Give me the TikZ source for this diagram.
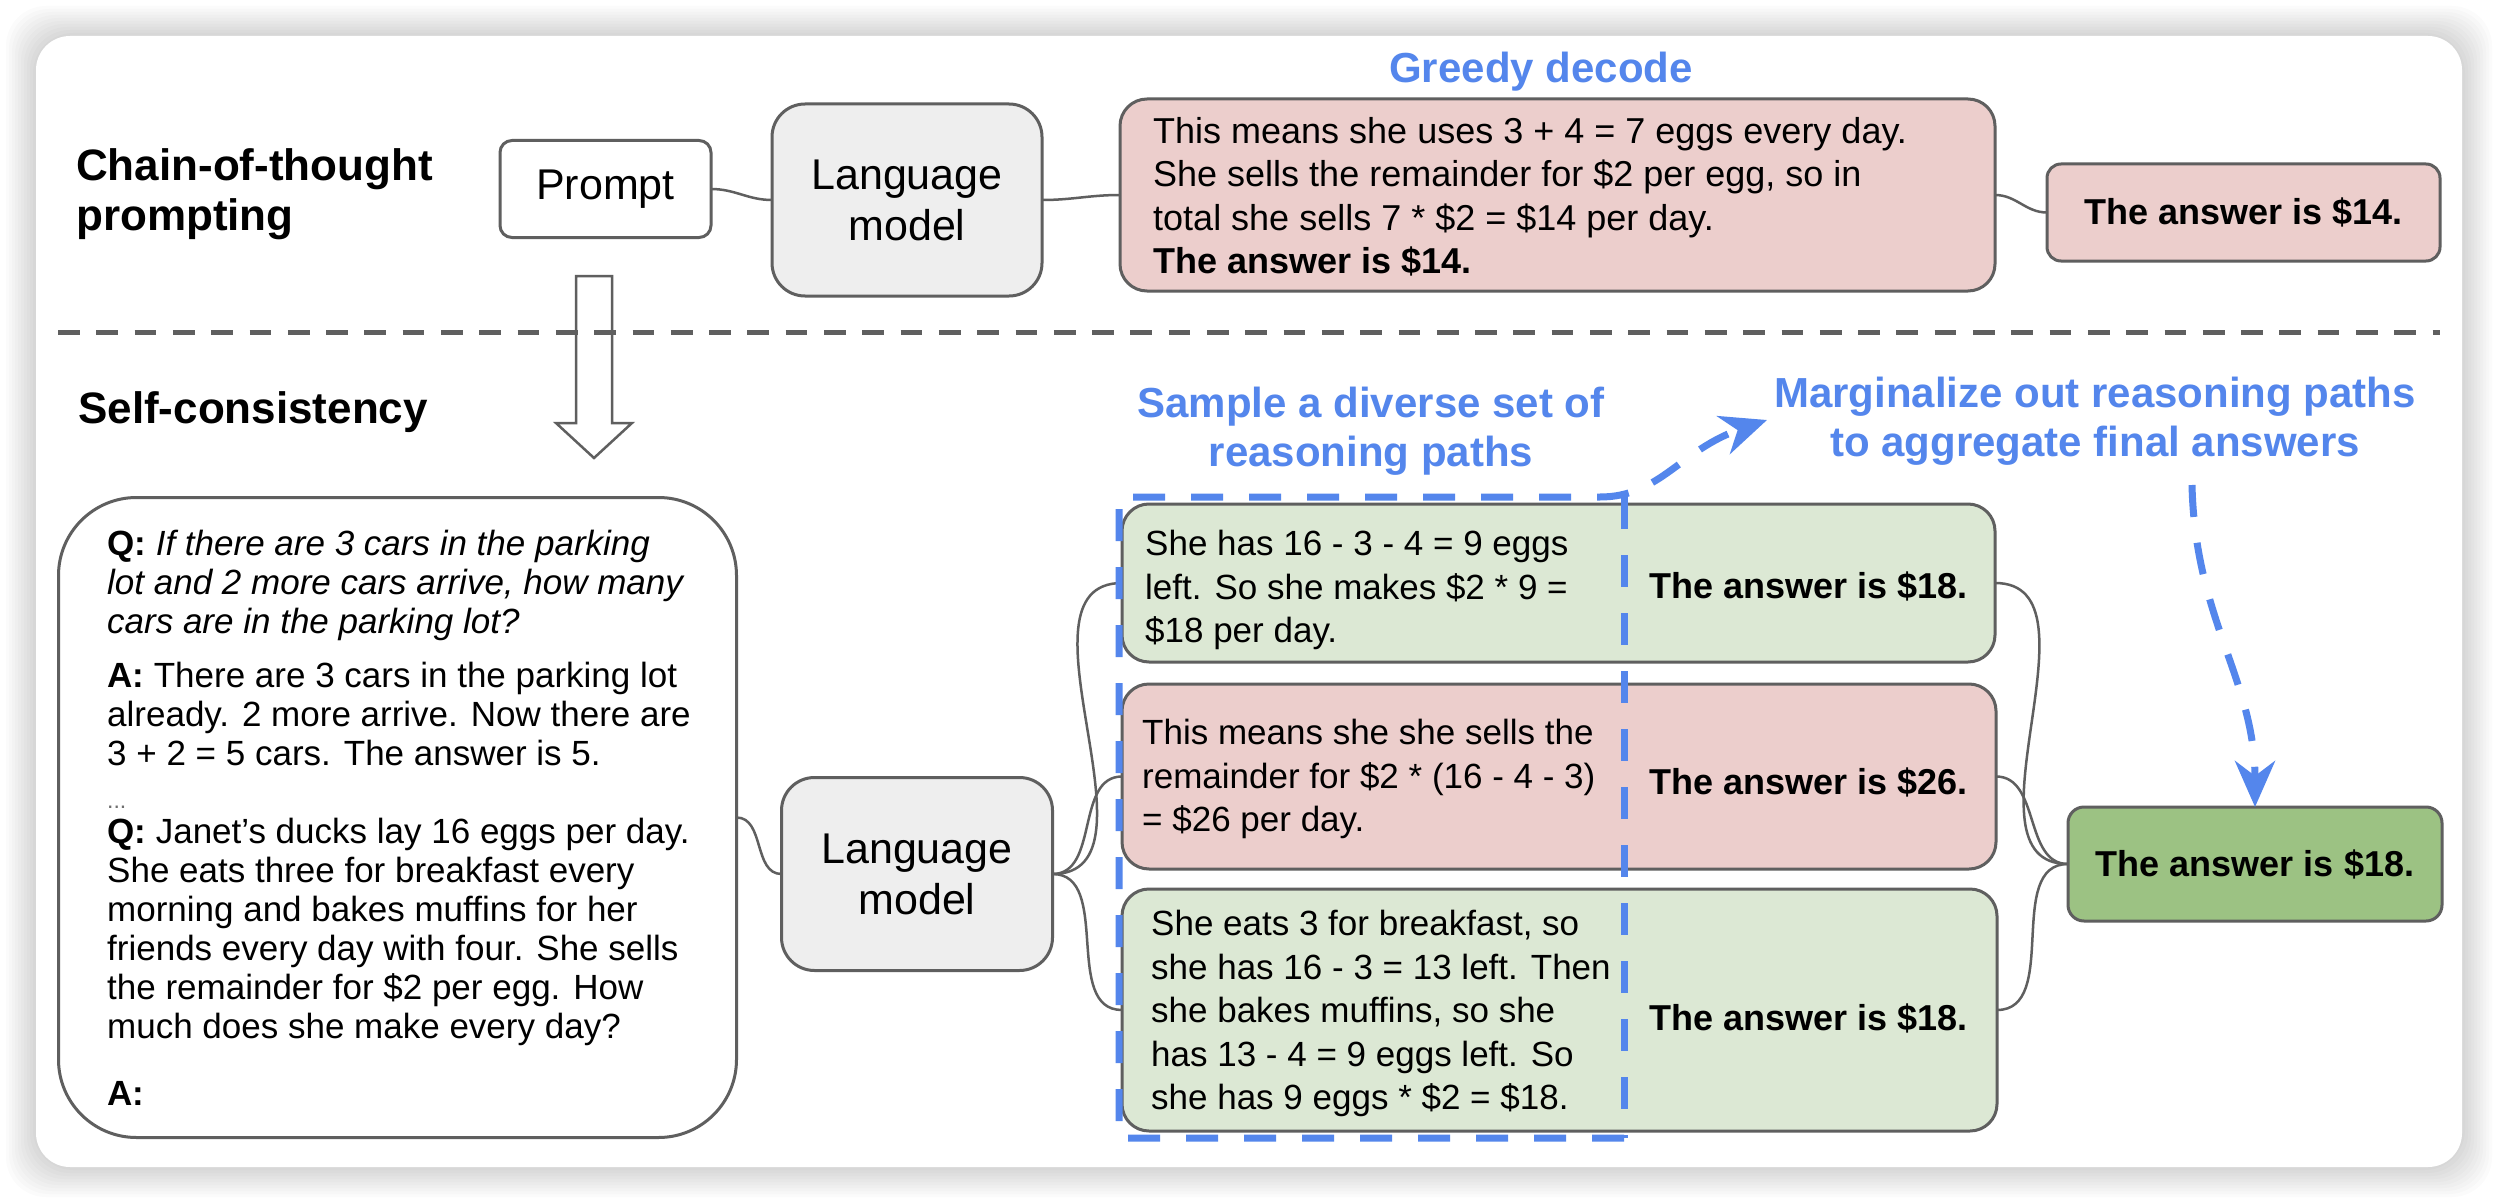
\documentclass[tikz,border=0pt]{standalone}
\usepackage{fontspec}
\setmainfont{Liberation Sans}
\usetikzlibrary{arrows.meta}

\definecolor{wiregray}{RGB}{95,95,95}
\definecolor{lmgray}{RGB}{238,238,238}
\definecolor{wrongpink}{RGB}{236,206,204}
\definecolor{rightgreen}{RGB}{220,232,212}
\definecolor{finalgreen}{RGB}{156,194,131}
\definecolor{capblue}{RGB}{84,134,236}
\definecolor{dotgray}{RGB}{110,110,110}

\tikzset{
  box/.style={draw=wiregray, line width=3pt, rounded corners=#1, inner sep=0pt, outer sep=0pt},
  box/.default=27pt,
  wire/.style={draw=wiregray, line width=2.5pt},
  heading/.style={font=\bfseries\fontsize{44}{50}\selectfont, align=left, inner sep=0pt},
  bluecap/.style={text=capblue, font=\bfseries\fontsize{42}{49}\selectfont, align=center, inner sep=0pt},
  lmtext/.style={font=\fontsize{43}{51}\selectfont, align=center},
  bodytext/.style={font=\fontsize{36}{43.5}\selectfont, align=left, inner sep=0pt},
  reasontext/.style={font=\fontsize{35}{43.5}\selectfont, align=left, inner sep=0pt},
  ctxtext/.style={font=\fontsize{35}{39}\selectfont, align=left, inner sep=0pt},
  answer/.style={font=\bfseries\fontsize{36}{43.5}\selectfont, inner sep=0pt},
  bluedash/.style={draw=capblue, line width=7pt, dash pattern=on 32pt off 26pt},
}

\begin{document}
\begin{tikzpicture}[x=1pt, y=-1pt]
  \useasboundingbox (0,0) rectangle (2498,1204);
  \fill[white] (0,0) rectangle (2498,1204);
  \foreach \i in {1,...,10} { \fill[black, opacity=0.015, rounded corners=40pt] (36-3*\i,36-3*\i) rectangle (2462+3*\i,1167+3*\i); }
  \fill[white, rounded corners=34pt] (36,36) rectangle (2462,1167);

  \node (cotlabel) [heading, anchor=west] at (76,194) {Chain-of-thought\\prompting};
  \node (sclabel) [heading, anchor=base west] at (78,423) {Self-consistency};

  \node (prompt) [box=12pt, fill=white, minimum width=211pt, minimum height=97pt, lmtext] at (605.5,189) {Prompt};
  \node (lmtop) [box=33pt, fill=lmgray, minimum width=270pt, minimum height=192pt, lmtext] at (907,200) {Language\\model};
  \node (greedy) [box, fill=wrongpink, minimum width=875pt, minimum height=192pt] at (1557.5,195) {};
  \node (greedytext) [bodytext, anchor=west] at (1153,197) {This means she uses 3 + 4 = 7 eggs every day.\\She sells the remainder for \$2 per egg, so in\\total she sells 7 * \$2 = \$14 per day.\\\textbf{The answer is \$14.}};
  \node (greedycap) [bluecap, anchor=base] at (1541,83) {Greedy decode};
  \node (greedyanswer) [box=14pt, fill=wrongpink, minimum width=393pt, minimum height=97pt, answer] at (2243.5,212.5) {The answer is \$14.};

  \draw[wiregray, fill=white, line width=2.5pt] (576,276) -- (612,276) -- (612,423) -- (632,423) -- (594,458) -- (556,423) -- (576,423) -- cycle;
  \draw[wiregray, line width=5pt, dash pattern=on 21.7pt off 16.6pt] (58,332) -- (2440,332);

  \node (context) [box=78pt, minimum width=678pt, minimum height=640pt] at (397.5,817.5) {};
  \node (contexttext) [ctxtext, anchor=north west] at (107,529.5) {\textbf{Q:} \textit{If there are 3 cars in the parking}\\
    \textit{lot and 2 more cars arrive, how many}\\
    \textit{cars are in the parking lot?}\\[15pt]
    \textbf{A:} There are 3 cars in the parking lot\\
    already. 2 more arrive. Now there are\\
    3 + 2 = 5 cars. The answer is 5.\\[4pt]
    {\fontsize{23}{23}\selectfont\color{dotgray}...}\\[-4pt]
    \textbf{Q:} Janet’s ducks lay 16 eggs per day.\\
    She eats three for breakfast every\\
    morning and bakes muffins for her\\
    friends every day with four. She sells\\
    the remainder for \$2 per egg. How\\
    much does she make every day?\\[28pt]
    \textbf{A:}};
  \node (lmbottom) [box=33pt, fill=lmgray, minimum width=271pt, minimum height=193pt, lmtext] at (917,874) {Language\\model};

  \node (pathone) [box, fill=rightgreen, minimum width=873pt, minimum height=158pt] at (1558.5,583) {};
  \node (pathtwo) [box, fill=wrongpink, minimum width=874pt, minimum height=185pt] at (1559,776.5) {};
  \node (paththree) [box, fill=rightgreen, minimum width=875pt, minimum height=242pt] at (1559.5,1010) {};
  \node (reasonone) [reasontext, anchor=west] at (1145,590) {She has 16 - 3 - 4 = 9 eggs\\left. So she makes \$2 * 9 =\\\$18 per day.};
  \node (reasontwo) [reasontext, anchor=west] at (1142,779) {This means she she sells the\\remainder for \$2 * (16 - 4 - 3)\\= \$26 per day.};
  \node (reasonthree) [reasontext, anchor=west] at (1151,1013.5) {She eats 3 for breakfast, so\\she has 16 - 3 = 13 left. Then\\she bakes muffins, so she\\has 13 - 4 = 9 eggs left. So\\she has 9 eggs * \$2 = \$18.};
  \node (answerone) [answer, anchor=base west] at (1649,598) {The answer is \$18.};
  \node (answertwo) [answer, anchor=base west] at (1649,794) {The answer is \$26.};
  \node (answerthree) [answer, anchor=base west] at (1649,1030) {The answer is \$18.};
  \node (final) [box=16pt, fill=finalgreen, minimum width=374pt, minimum height=114pt, answer] at (2255,864) {The answer is \$18.};

  \node (samplecap) [bluecap] at (1371,431) {Sample a diverse set of\\reasoning paths};
  \node (margcap) [bluecap] at (2095,421) {Marginalize out reasoning paths\\to aggregate final answers};

  \draw[wire] (prompt.east) to[out=0,in=180] (lmtop.west);
  \draw[wire] (lmtop.east) to[out=0,in=180] (greedy.west);
  \draw[wire] (greedy.east) to[out=0,in=180] (greedyanswer.west);
  \draw[wire] (context.east) to[out=0,in=180] (lmbottom.west);
  \foreach \p in {pathone,pathtwo,paththree} { \draw[wire] (lmbottom.east) to[out=0,in=180] (\p.west); \draw[wire] (\p.east) to[out=0,in=180] (final.west); }

  \coordinate (margtip) at (1767,420);
  \coordinate (margfoot) at (2192,485);
  \draw[bluedash] (1624,497) -- (1624,1138);
  \draw[bluedash, -{Stealth[length=46pt, width=40pt]}] (1624,1138) -- (1119,1138) -- (1119,497) -- (1600,497) .. controls (1660,497) and (1680,450) .. (margtip);
  \draw[bluedash, -{Stealth[length=46pt, width=40pt]}] (margfoot) .. controls (2195,620) and (2255,680) .. (final.north);
\end{tikzpicture}
\end{document}
